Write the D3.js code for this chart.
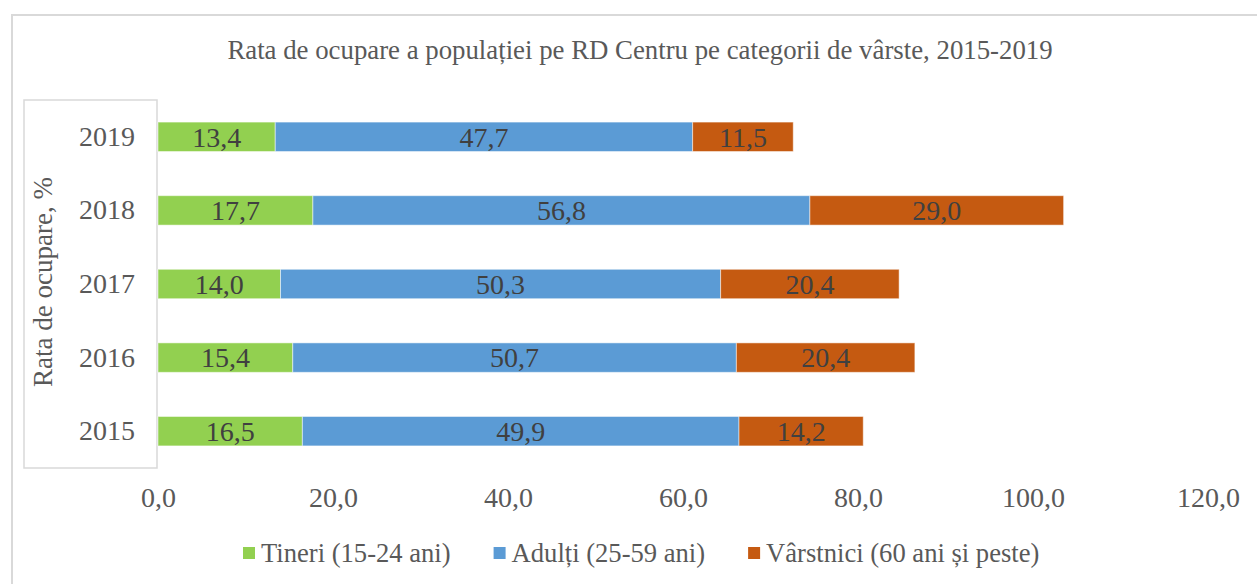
<!DOCTYPE html>
<html>
<head>
<meta charset="utf-8">
<script src="https://cdn.jsdelivr.net/npm/d3@7"></script>
<style>
  body { margin: 0; background: #fff; }
  svg { display: block; font-family: "Liberation Serif", "Times New Roman", serif; }
</style>
</head>
<body>
<div id="chart"></div>
<script>
var years = ["2015", "2016", "2017", "2018", "2019"];
var tineri = [16.5, 15.4, 14.0, 17.7, 13.4];
var adulti = [49.9, 50.7, 50.3, 56.8, 47.7];
var varstnici = [14.2, 20.4, 20.4, 29.0, 11.5];
var seriesNames = ["Tineri (15-24 ani)", "Adulți (25-59 ani)", "Vârstnici (60 ani și peste)"];
var xTicks = [0, 20, 40, 60, 80, 100, 120];
var title = "Rata de ocupare a populației pe RD Centru pe categorii de vârste, 2015-2019";
var yTitle = "Rata de ocupare, %";

var colors = ["#92D050", "#5B9BD5", "#C55A11"];
var keys = ["t", "a", "v"];

var rows = years.map(function(y, i) {
    return { year: y, t: tineri[i], a: adulti[i], v: varstnici[i] };
});

var width = 1257, height = 584;
var fmt = function(d) { return d.toFixed(1).replace(".", ","); };

var svg = d3.select("#chart").append("svg")
    .attr("width", width)
    .attr("height", height);

// chart frame
svg.append("rect")
    .attr("x", 12).attr("y", 15)
    .attr("width", 1270).attr("height", 600)
    .attr("fill", "#fff")
    .attr("stroke", "#d9d9d9")
    .attr("stroke-width", 2);

svg.append("text")
    .attr("x", 640).attr("y", 50)
    .attr("dy", "0.35em")
    .attr("text-anchor", "middle")
    .attr("fill", "#595959")
    .style("font-size", "26.8px")
    .text(title);

var x = d3.scaleLinear().domain([0, 120]).range([158, 1208]);
var y = d3.scaleBand()
    .domain(years.slice().reverse())
    .range([100, 468])
    .paddingInner(0.6)
    .paddingOuter(0.3);

// box round the category axis
svg.append("rect")
    .attr("x", 24).attr("y", 100)
    .attr("width", 133).attr("height", 368)
    .attr("fill", "#fff")
    .attr("stroke", "#d9d9d9")
    .attr("stroke-width", 1.5);

var stack = d3.stack().keys(keys)(rows);

var layer = svg.selectAll("g.layer")
    .data(stack)
    .enter().append("g")
    .attr("class", "layer")
    .attr("fill", function(d, i) { return colors[i]; });

layer.selectAll("rect")
    .data(function(d) { return d; })
    .enter().append("rect")
    .attr("x", function(d) { return x(d[0]); })
    .attr("y", function(d) { return y(d.data.year); })
    .attr("width", function(d) { return x(d[1]) - x(d[0]); })
    .attr("height", y.bandwidth())
    .attr("stroke", "#fff")
    .attr("stroke-opacity", 0.5)
    .attr("stroke-width", 1);

layer.selectAll("text")
    .data(function(d) { return d; })
    .enter().append("text")
    .attr("x", function(d) { return (x(d[0]) + x(d[1])) / 2; })
    .attr("y", function(d) { return y(d.data.year) + y.bandwidth() / 2; })
    .attr("dy", "0.35em")
    .attr("text-anchor", "middle")
    .attr("fill", "#404040")
    .style("font-size", "28px")
    .text(function(d) { return fmt(d[1] - d[0]); });

// x axis
var xAxis = svg.append("g")
    .attr("transform", "translate(0,497)")
    .call(d3.axisBottom(x).tickValues(xTicks).tickFormat(fmt).tickSize(0).tickPadding(0));
xAxis.select(".domain").remove();
xAxis.selectAll("text")
    .attr("y", 0).attr("dy", "0.35em")
    .attr("fill", "#595959")
    .style("font-size", "28px")
    .style("font-family", "Liberation Serif, serif");

// y axis
var yAxis = svg.append("g")
    .attr("transform", "translate(158,0)")
    .call(d3.axisLeft(y).tickSize(0).tickPadding(23));
yAxis.select(".domain").remove();
yAxis.selectAll("text")
    .attr("fill", "#595959")
    .style("font-size", "28px")
    .style("font-family", "Liberation Serif, serif");

svg.append("text")
    .attr("transform", "translate(43,282) rotate(-90)")
    .attr("dy", "0.35em")
    .attr("text-anchor", "middle")
    .attr("fill", "#595959")
    .style("font-size", "27px")
    .text(yTitle);

// legend
var legend = svg.append("g").attr("transform", "translate(0,553)");
var lx = 243;
seriesNames.forEach(function(name, i) {
    legend.append("rect")
        .attr("x", lx).attr("y", -6)
        .attr("width", 12).attr("height", 12)
        .attr("fill", colors[i]);
    var t = legend.append("text")
        .attr("x", lx + 18).attr("y", 0)
        .attr("dy", "0.35em")
        .attr("fill", "#595959")
        .style("font-size", "26.6px")
        .text(name);
    lx += 18 + t.node().getComputedTextLength() + 43;
});
</script>
</body>
</html>
